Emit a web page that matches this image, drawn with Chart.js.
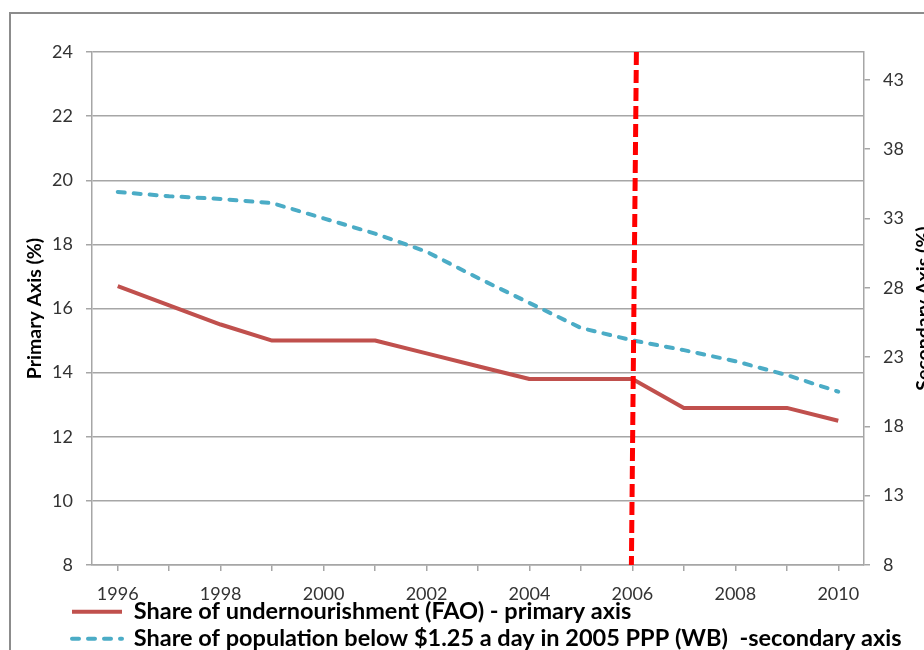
<!DOCTYPE html>
<html>
<head>
<meta charset="utf-8">
<script src="https://cdn.jsdelivr.net/npm/chart.js@4.4.1/dist/chart.umd.min.js"></script>
<style>
html, body { margin: 0; padding: 0; background: #fff; overflow: hidden; width: 924px; height: 650px; }
.frame { position: absolute; left: 9px; top: 12px; border: 2px solid #8c8c8c; width: 940px; height: 660px; }
canvas { display: block; }
</style>
</head>
<body>
<div class="frame"><canvas id="chart" width="940" height="660"></canvas></div>
<script>
// data
var years = ['1996', '1997', '1998', '1999', '2000', '2001', '2002', '2003', '2004', '2005', '2006', '2007', '2008', '2009', '2010'];
var undernourishment = [16.7, 16.1, 15.5, 15.0, 15.0, 15.0, 14.6, 14.2, 13.8, 13.8, 13.8, 12.9, 12.9, 12.9, 12.5];
var povertyShare = [34.9, 34.6, 34.4, 34.1, 33.0, 31.9, 30.6, 28.7, 26.9, 25.1, 24.2, 23.5, 22.7, 21.7, 20.5];
var primaryTicks = [8, 10, 12, 14, 16, 18, 20, 22, 24];
var secondaryTicks = [8, 13, 18, 23, 28, 33, 38, 43];
var markYear = '2006';

var primaryTitle = 'Primary Axis (%)';
var secondaryTitle = 'Secondary Axis (%)';

var gridGrey = '#a6a6a6';
Chart.defaults.font.family = 'Lato';

// move the legend in under the plot, like the excel one
var legendShift = {
	id: 'legendShift',
	afterLayout: function(chart){
		chart.legend.left += 57.5;
		chart.legend.top -= 10.5;
	}
};

// both axis titles read bottom to top
var axisTitles = {
	id: 'axisTitles',
	afterDraw: function(chart){
		var ctx = chart.ctx, area = chart.chartArea;
		var midY = (area.top + area.bottom) / 2;
		ctx.save();
		ctx.font = 'bold 19.5px Lato';
		ctx.fillStyle = '#000';
		ctx.textAlign = 'center';
		ctx.textBaseline = 'middle';
		[[chart.scales.y.left + 24, primaryTitle], [chart.scales.y1.left + 60, secondaryTitle]].forEach(function(t){
			ctx.save();
			ctx.translate(t[0], midY);
			ctx.rotate(-Math.PI / 2);
			ctx.fillText(t[1], 0, 0);
			ctx.restore();
		});
		ctx.restore();
	}
};

// red dashed marker at 2006
var markerLine = {
	id: 'markerLine',
	afterDatasetsDraw: function(chart){
		var ctx = chart.ctx, area = chart.chartArea;
		var x = chart.scales.x.getPixelForValue(years.indexOf(markYear));
		ctx.save();
		ctx.strokeStyle = '#ff0000';
		ctx.lineWidth = 5;
		ctx.setLineDash([13, 5]);
		ctx.beginPath();
		ctx.moveTo(x + 4, area.top);
		ctx.lineTo(x - 1, area.bottom);
		ctx.stroke();
		ctx.restore();
	}
};

new Chart(document.getElementById('chart'), {
	type: 'line',
	data: {
		labels: years,
		datasets: [
			{
				label: 'Share of undernourishment (FAO) - primary axis',
				data: undernourishment,
				yAxisID: 'y',
				borderColor: '#c0504d',
				backgroundColor: '#c0504d',
				borderWidth: 4,
				borderJoinStyle: 'round',
				pointRadius: 0,
				pointStyle: 'line',
				tension: 0
			},
			{
				label: 'Share of population below $1.25 a day in 2005 PPP (WB)  -secondary axis',
				data: povertyShare,
				yAxisID: 'y1',
				borderColor: '#4bacc6',
				backgroundColor: '#4bacc6',
				borderWidth: 4,
				borderDash: [7, 9],
				borderCapStyle: 'round',
				borderJoinStyle: 'round',
				pointRadius: 0,
				pointStyle: 'line',
				tension: 0
			}
		]
	},
	options: {
		responsive: false,
		animation: false,
		layout: { padding: { top: 38, left: 0, right: 0, bottom: 3 } },
		plugins: {
			legend: {
				position: 'bottom',
				align: 'start',
				labels: {
					usePointStyle: true,
					pointStyleWidth: 50,
					padding: 3.5,
					color: '#000',
					font: { family: 'Lato', size: 23.5, weight: 'bold' },
					generateLabels: function(chart){
						var items = Chart.defaults.plugins.legend.labels.generateLabels(chart);
						items.forEach(function(it){
							var ds = chart.data.datasets[it.datasetIndex];
							it.lineDash = ds.borderDash || [];
							it.lineWidth = ds.borderWidth;
							it.lineCap = ds.borderCapStyle || 'butt';
							it.strokeStyle = ds.borderColor;
						});
						return items;
					}
				}
			},
			tooltip: { enabled: false }
		},
		scales: {
			x: {
				type: 'category',
				offset: true,
				afterFit: function(scale){ scale.height = 42; },
				grid: { offset: false, drawOnChartArea: false, tickLength: 6, color: gridGrey, lineWidth: 1.5 },
				border: { color: gridGrey, width: 1.5 },
				ticks: {
					autoSkip: false,
					maxRotation: 0,
					padding: 12,
					color: '#333',
					font: { size: 18 },
					callback: function(v, i){ return i % 2 === 0 ? years[i] : ''; }
				}
			},
			y: {
				position: 'left',
				min: 8,
				max: 24,
				afterBuildTicks: function(axis){ axis.ticks = primaryTicks.map(function(v){ return { value: v }; }); },
				afterFit: function(scale){ scale.width = 81; },
				grid: { tickLength: 6, color: gridGrey, lineWidth: 1.5 },
				border: { color: gridGrey, width: 1.5 },
				ticks: { padding: 13, color: '#333', font: { size: 18 } }
			},
			y1: {
				position: 'right',
				min: 8,
				max: 45,
				afterBuildTicks: function(axis){ axis.ticks = secondaryTicks.map(function(v){ return { value: v }; }); },
				afterFit: function(scale){ scale.width = 87; },
				grid: { drawOnChartArea: false, tickLength: 6, color: gridGrey, lineWidth: 1.5 },
				border: { color: gridGrey, width: 1.5 },
				ticks: { padding: 13, color: '#333', font: { size: 18 } }
			}
		}
	},
	plugins: [legendShift, markerLine, axisTitles]
});
</script>
</body>
</html>
